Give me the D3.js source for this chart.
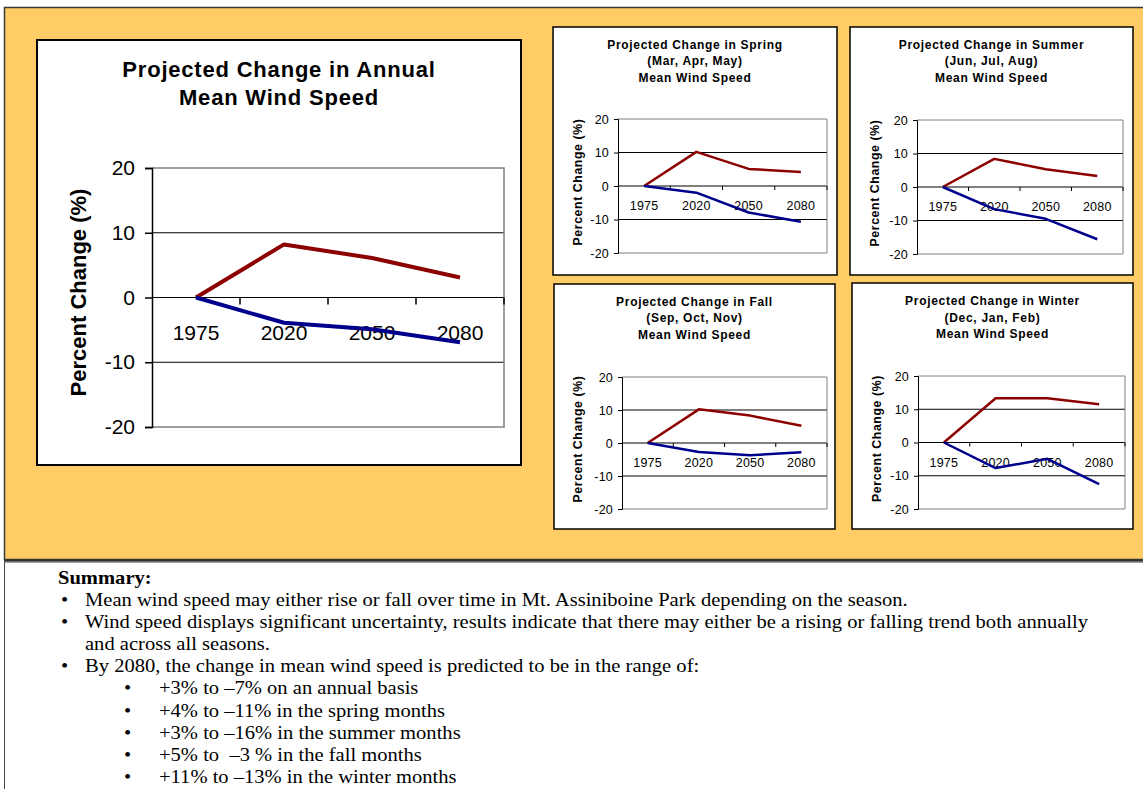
<!DOCTYPE html>
<html><head><meta charset="utf-8">
<script src="https://cdn.jsdelivr.net/npm/d3@7"></script>
<style>body{margin:0;background:#fff;}svg{display:block;}</style>
</head><body><svg id="c" width="1143" height="789"></svg>
<script>
// ---- data ----
const years = ["1975", "2020", "2050", "2080"];
const yTicks = [-20, -10, 0, 10, 20];
const annualHigh = [0, 8.2, 6.1, 3.1];
const annualLow  = [0, -3.9, -4.9, -6.9];
const springHigh = [0, 10.2, 5.1, 4.2];
const springLow  = [0, -2.0, -7.9, -10.7];
const summerHigh = [0, 8.4, 5.3, 3.3];
const summerLow  = [0, -6.6, -9.5, -15.6];
const fallHigh   = [0, 10.2, 8.3, 5.2];
const fallLow    = [0, -2.7, -3.7, -2.8];
const winterHigh = [0, 13.3, 13.3, 11.5];
const winterLow  = [0, -7.7, -4.9, -12.5];
const summaryTitle = "Summary:";
const bullets = [
  ["Mean wind speed may either rise or fall over time in Mt. Assiniboine Park depending on the season."],
  ["Wind speed displays significant uncertainty, results indicate that there may either be a rising or falling trend both annually", "and across all seasons."],
  ["By 2080, the change in mean wind speed is predicted to be in the range of:"]
];
const subBullets = [
  "+3% to \u20137% on an annual basis",
  "+4% to \u201311% in the spring months",
  "+3% to \u201316% in the summer months",
  "+5% to  \u20133 % in the fall months",
  "+11% to \u201313% in the winter months"
];

const RED = "#8c0000", BLUE = "#00008c";
const svg = d3.select("#c");
const SANS = "'Liberation Sans', Arial, sans-serif";
const SERIF = "'Liberation Serif', 'Times New Roman', serif";

// orange panel
svg.append("rect").attr("x", 4.5).attr("y", 7.5).attr("width", 1150).attr("height", 552)
  .attr("fill", "#ffcc66").attr("stroke", "#3a3a3a").attr("stroke-width", 1.5);
// white summary box
svg.append("rect").attr("x", 4.5).attr("y", 562).attr("width", 1150).attr("height", 240)
  .attr("fill", "#fff").attr("stroke", "#444").attr("stroke-width", 1);
svg.append("line").attr("x1", 4).attr("x2", 1143).attr("y1", 560.5).attr("y2", 560.5)
  .attr("stroke", "#333").attr("stroke-width", 2);

function chart(o) {
  const g = svg.append("g");
  g.append("rect").attr("x", o.box[0]).attr("y", o.box[1])
    .attr("width", o.box[2] - o.box[0]).attr("height", o.box[3] - o.box[1])
    .attr("fill", "#fff").attr("stroke", "#000").attr("stroke-width", o.boxW);
  const cx = (o.box[0] + o.box[2]) / 2;
  o.title.forEach((t, i) => {
    g.append("text").attr("x", cx).attr("y", o.titleY[i]).attr("text-anchor", "middle")
      .attr("font-family", SANS).attr("font-weight", "bold").attr("font-size", o.titleFs)
      .attr("letter-spacing", o.titleLs).text(t);
  });
  const [L, T, R, B] = o.plot;
  const x = d3.scaleBand().domain(years).range([L, R]);
  const y = d3.scaleLinear().domain([-20, 20]).range([B, T]);
  // gridlines
  g.selectAll(".grid").data(yTicks.filter(v => v !== 20 && v !== -20)).enter().append("line")
    .attr("x1", L).attr("x2", R).attr("y1", d => y(d)).attr("y2", d => y(d))
    .attr("stroke", "#000").attr("stroke-width", 1);
  // plot border (gray)
  g.append("path").attr("d", `M${L},${y(20)}H${R}V${y(-20)}H${L}`)
    .attr("fill", "none").attr("stroke", "#808080").attr("stroke-width", o.plotW);
  // left axis
  const ax = d3.axisLeft(y).tickValues(yTicks).tickSize(o.tick).tickPadding(o.pad).tickFormat(d => String(d));
  const ag = g.append("g").attr("transform", `translate(${L},0)`).call(ax);
  ag.select(".domain").attr("stroke", "#000").attr("stroke-width", o.plotW);
  ag.selectAll(".tick line").attr("stroke", "#000").attr("stroke-width", o.plotW);
  ag.selectAll("text").attr("font-family", SANS).attr("font-size", o.tickFs)
    .attr("letter-spacing", o.tickLs).attr("fill", "#000");
  // x ticks at category boundaries on zero line
  const bounds = years.slice(1).map(d => x(d)).concat([R]);
  g.selectAll(".xt").data(bounds).enter().append("line")
    .attr("x1", d => d).attr("x2", d => d).attr("y1", y(0)).attr("y2", y(0) + o.tick)
    .attr("stroke", "#000").attr("stroke-width", o.plotW);
  // x labels
  g.selectAll(".xl").data(years).enter().append("text")
    .attr("x", d => x(d) + x.bandwidth() / 2).attr("y", y(0) + o.xLabDy)
    .attr("text-anchor", "middle").attr("font-family", SANS).attr("font-size", o.tickFs)
    .attr("letter-spacing", o.tickLs).text(d => d);
  // y title
  g.append("text").attr("transform", `translate(${o.yTitleX},${(T + B) / 2 + o.yTitleDy}) rotate(-90)`)
    .attr("text-anchor", "middle").attr("font-family", SANS).attr("font-weight", "bold")
    .attr("font-size", o.yTitleFs).attr("letter-spacing", o.yTitleLs).text("Percent Change (%)");
  // lines
  const line = d3.line().x((d, i) => x(years[i]) + x.bandwidth() / 2).y(d => y(d));
  g.append("path").datum(o.high).attr("d", line).attr("fill", "none")
    .attr("stroke", RED).attr("stroke-width", o.lw).attr("stroke-linejoin", "bevel");
  g.append("path").datum(o.low).attr("d", line).attr("fill", "none")
    .attr("stroke", BLUE).attr("stroke-width", o.lw).attr("stroke-linejoin", "bevel");
}

// main annual chart
chart({
  box: [37, 40, 521, 465], boxW: 2,
  title: ["Projected Change in Annual", "Mean Wind Speed"], titleY: [77, 105], titleFs: 22, titleLs: 0.8,
  plot: [152, 168, 504, 427], plotW: 1.5, tick: 7, pad: 10,
  tickFs: 21, tickLs: 0, xLabDy: 42,
  yTitleX: 86, yTitleDy: -5, yTitleFs: 22, yTitleLs: 0,
  high: annualHigh, low: annualLow, lw: 4
});

const small = {
  boxW: 1.5, titleFs: 12, titleLs: 0.7, plotW: 1, tick: 4, pad: 5,
  tickFs: 12.5, tickLs: 0.2, xLabDy: 24, yTitleFs: 12.3, yTitleLs: 0.6, yTitleDy: -4, lw: 2.5
};
chart(Object.assign({}, small, {
  box: [553, 27, 837, 275], title: ["Projected Change in Spring", "(Mar, Apr, May)", "Mean Wind Speed"],
  titleY: [48.5, 65, 82], plot: [618, 119, 827, 253], yTitleX: 582, high: springHigh, low: springLow
}));
chart(Object.assign({}, small, {
  box: [850, 27, 1133, 275], title: ["Projected Change in Summer", "(Jun, Jul, Aug)", "Mean Wind Speed"],
  titleY: [48.5, 65, 82], plot: [917, 120, 1123, 254], yTitleX: 879, high: summerHigh, low: summerLow
}));
chart(Object.assign({}, small, {
  box: [554, 284, 835, 529], title: ["Projected Change in Fall", "(Sep, Oct, Nov)", "Mean Wind Speed"],
  titleY: [306, 322, 339], plot: [622, 377, 827, 509], yTitleX: 582, high: fallHigh, low: fallLow
}));
chart(Object.assign({}, small, {
  box: [852, 283, 1133, 529], title: ["Projected Change in Winter", "(Dec, Jan, Feb)", "Mean Wind Speed"],
  titleY: [305, 321.5, 338], plot: [918, 376, 1125, 509], yTitleX: 881, high: winterHigh, low: winterLow
}));

// summary
const SX = 1.143;
const st = svg.append("g").attr("font-family", SERIF).attr("font-size", 18).attr("fill", "#000");
function stext(x, y, s, bold) {
  const t = st.append("text").attr("transform", `translate(${x},${y}) scale(${SX},1)`)
    .style("white-space", "pre").text(s);
  if (bold) t.attr("font-weight", "bold");
  return t;
}
stext(58, 584, summaryTitle, true);
let yy = 606;
bullets.forEach(b => {
  stext(61, yy, "\u2022");
  b.forEach(line => { stext(85, yy, line); yy += 22.1; });
});
subBullets.forEach(s => {
  stext(124, yy, "\u2022");
  stext(159, yy, s);
  yy += 22.1;
});
</script></body></html>
